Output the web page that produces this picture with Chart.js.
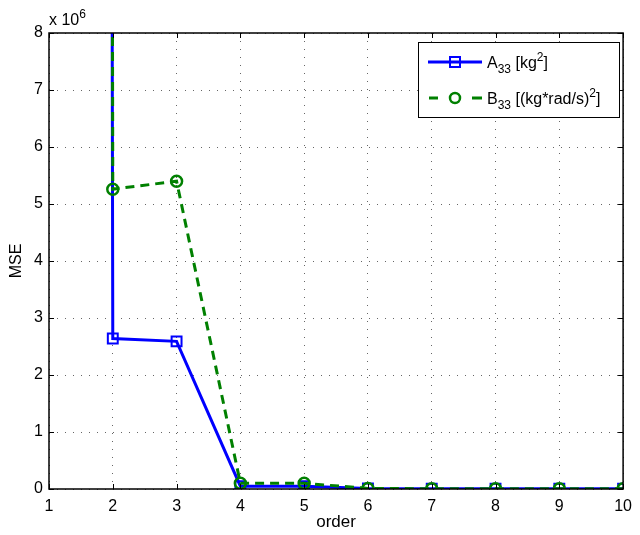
<!DOCTYPE html>
<html>
<head>
<meta charset="utf-8">
<script src="https://cdn.jsdelivr.net/npm/chart.js@4.4.1/dist/chart.umd.min.js"></script>
<style>
html, body { margin: 0; padding: 0; background: #fff; }
#wrap { width: 640px; height: 535px; }
</style>
</head>
<body>
<div id="wrap"><canvas id="mseChart"></canvas></div>
<script>
// model order on x, MSE on y (raw values, axis shows x 10^6)
const orders = [1, 2, 3, 4, 5, 6, 7, 8, 9, 10];
const mseA = [6.0e8, 2.64e6, 2.59e6, 0.05e6, 0.05e6, 0.01e6, 0.005e6, 0.005e6, 0.004e6, 0.004e6];
const mseB = [6.0e8, 5.26e6, 5.40e6, 0.10e6, 0.10e6, 0.01e6, 0.005e6, 0.005e6, 0.004e6, 0.004e6];
const yTicks = [0, 1, 2, 3, 4, 5, 6, 7, 8];
const xTicks = [1, 2, 3, 4, 5, 6, 7, 8, 9, 10];
const yScaleExp = 6;

const FONT = '"Liberation Sans", Arial, Helvetica, sans-serif';

function toPoints(ys) {
    return orders.map((o, i) => ({ x: o, y: ys[i] }));
}

// draws text runs with sub / superscripts, returns end x
function drawRich(ctx, parts, x, y) {
    parts.forEach(p => {
        let size = p.s === 0 ? 16 : 12;
        let dy = p.s === -1 ? 5 : (p.s === 1 ? -7 : 0);
        ctx.font = size + 'px ' + FONT;
        ctx.fillText(p.t, x, y + dy);
        x += ctx.measureText(p.t).width;
    });
    return x;
}

const matlabFrame = {
    id: 'matlabFrame',
    afterDatasetsDraw(chart) {
        const ctx = chart.ctx;
        const a = chart.chartArea;
        const xs = chart.scales.x, ys = chart.scales.y;
        ctx.save();
        ctx.strokeStyle = '#000';
        ctx.lineWidth = 1;
        // inward ticks on all four sides
        ctx.beginPath();
        xTicks.forEach(t => {
            let px = Math.round(xs.getPixelForValue(t)) + 0.5;
            ctx.moveTo(px, a.bottom); ctx.lineTo(px, a.bottom - 5);
            ctx.moveTo(px, a.top); ctx.lineTo(px, a.top + 5);
        });
        yTicks.forEach(t => {
            let py = Math.round(ys.getPixelForValue(t * Math.pow(10, yScaleExp))) + 0.5;
            ctx.moveTo(a.left, py); ctx.lineTo(a.left + 5, py);
            ctx.moveTo(a.right, py); ctx.lineTo(a.right - 5, py);
        });
        ctx.stroke();
        // box
        ctx.lineWidth = 1.5;
        ctx.strokeRect(a.left, a.top, a.right - a.left, a.bottom - a.top);

        // exponent label
        ctx.fillStyle = '#000';
        ctx.textBaseline = 'alphabetic';
        ctx.textAlign = 'left';
        drawRich(ctx, [{ t: 'x 10', s: 0 }, { t: String(yScaleExp), s: 1 }], a.left, 25);

        // legend
        const lx = 418, ly = 42, lw = 201, lh = 75;
        ctx.fillStyle = '#fff';
        ctx.fillRect(lx, ly, lw, lh);
        ctx.lineWidth = 1;
        ctx.strokeStyle = '#000';
        ctx.strokeRect(lx + 0.5, ly + 0.5, lw, lh);

        // entry A
        let y1 = 62;
        ctx.strokeStyle = '#0000ff';
        ctx.lineWidth = 3;
        ctx.beginPath(); ctx.moveTo(428, y1); ctx.lineTo(482, y1); ctx.stroke();
        ctx.lineWidth = 2;
        ctx.strokeRect(450, y1 - 5, 10, 10);
        // entry B
        let y2 = 98;
        ctx.strokeStyle = '#008000';
        ctx.lineWidth = 3;
        ctx.beginPath();
        ctx.moveTo(429, y2); ctx.lineTo(438, y2);
        ctx.moveTo(472, y2); ctx.lineTo(482, y2);
        ctx.stroke();
        ctx.lineWidth = 2.5;
        ctx.beginPath(); ctx.arc(455, y2, 5, 0, Math.PI * 2); ctx.stroke();

        ctx.fillStyle = '#000';
        drawRich(ctx, [{ t: 'A', s: 0 }, { t: '33', s: -1 }, { t: ' [kg', s: 0 }, { t: '2', s: 1 }, { t: ']', s: 0 }], 487, y1 + 6);
        drawRich(ctx, [{ t: 'B', s: 0 }, { t: '33', s: -1 }, { t: ' [(kg*rad/s)', s: 0 }, { t: '2', s: 1 }, { t: ']', s: 0 }], 487, y2 + 6);
        ctx.restore();
    }
};

new Chart(document.getElementById('mseChart'), {
    type: 'line',
    data: {
        datasets: [
            {
                label: 'A33 [kg^2]',
                data: toPoints(mseA),
                borderColor: '#0000ff',
                borderWidth: 3,
                pointStyle: 'rect',
                pointRadius: 7,
                pointBorderWidth: 2,
                pointBorderColor: '#0000ff',
                pointBackgroundColor: 'rgba(0,0,0,0)',
                tension: 0,
                order: 2
            },
            {
                label: 'B33 [(kg*rad/s)^2]',
                data: toPoints(mseB),
                borderColor: '#008000',
                borderWidth: 3,
                borderDash: [9, 6],
                pointStyle: 'circle',
                pointRadius: 5.5,
                pointBorderWidth: 2.5,
                pointBorderColor: '#008000',
                pointBackgroundColor: 'rgba(0,0,0,0)',
                tension: 0,
                order: 1
            }
        ]
    },
    options: {
        responsive: true,
        maintainAspectRatio: false,
        animation: false,
        layout: { padding: { left: 0, top: 33, right: 11, bottom: 0 } },
        plugins: {
            legend: { display: false },
            tooltip: { enabled: false }
        },
        scales: {
            x: {
                type: 'linear',
                min: 1,
                max: 10,
                afterFit: s => { s.height = 46; },
                afterBuildTicks: s => { s.ticks = xTicks.map(v => ({ value: v })); },
                ticks: { color: '#000', font: { family: FONT, size: 16 }, padding: 8, maxRotation: 0 },
                grid: { color: 'rgba(0,0,0,0.6)', lineWidth: 1, drawTicks: false },
                border: { display: false, dash: [1, 7] },
                title: { display: true, text: 'order', color: '#000', font: { family: FONT, size: 17, lineHeight: 1 }, padding: { top: 0, bottom: 4 } }
            },
            y: {
                min: 0,
                max: 8e6,
                afterFit: s => { s.width = 49; },
                afterBuildTicks: s => { s.ticks = yTicks.map(v => ({ value: v * Math.pow(10, yScaleExp) })); },
                ticks: {
                    color: '#000',
                    font: { family: FONT, size: 16 },
                    padding: 6,
                    callback: v => String(Math.round(v / Math.pow(10, yScaleExp)))
                },
                grid: { color: 'rgba(0,0,0,0.6)', lineWidth: 1, drawTicks: false },
                border: { display: false, dash: [1, 7] },
                title: { display: true, text: 'MSE', color: '#000', font: { family: FONT, size: 16 }, padding: 7 }
            }
        }
    },
    plugins: [matlabFrame]
});
</script>
</body>
</html>
